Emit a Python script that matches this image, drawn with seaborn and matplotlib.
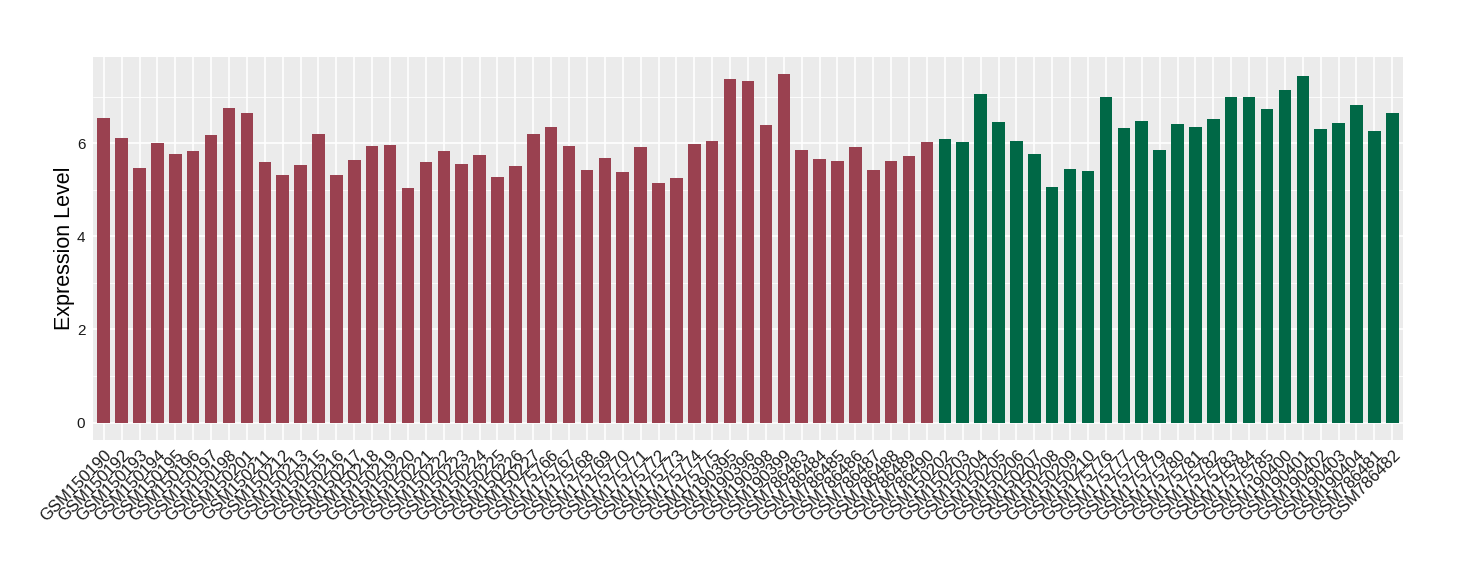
import matplotlib
matplotlib.use("Agg")
import matplotlib.pyplot as plt
import seaborn as sns
import pandas as pd
from matplotlib.ticker import MultipleLocator

group_a_samples = [
    "GSM150190", "GSM150192", "GSM150193", "GSM150194", "GSM150195", "GSM150196",
    "GSM150197", "GSM150198", "GSM150201", "GSM150211", "GSM150212", "GSM150213",
    "GSM150215", "GSM150216", "GSM150217", "GSM150218", "GSM150219", "GSM150220",
    "GSM150221", "GSM150222", "GSM150223", "GSM150224", "GSM150225", "GSM150226",
    "GSM150227", "GSM175766", "GSM175767", "GSM175768", "GSM175769", "GSM175770",
    "GSM175771", "GSM175772", "GSM175773", "GSM175774", "GSM175775", "GSM190395",
    "GSM190396", "GSM190398", "GSM190399", "GSM786483", "GSM786484", "GSM786485",
    "GSM786486", "GSM786487", "GSM786488", "GSM786489", "GSM786490",
]
group_a_values = [
    6.54, 6.11, 5.46, 6.00, 5.76, 5.83, 6.17, 6.75, 6.66, 5.59, 5.31, 5.53,
    6.19, 5.31, 5.64, 5.94, 5.96, 5.03, 5.59, 5.83, 5.55, 5.74, 5.27, 5.51,
    6.19, 6.34, 5.94, 5.42, 5.68, 5.38, 5.92, 5.14, 5.25, 5.98, 6.06, 7.39,
    7.33, 6.39, 7.48, 5.85, 5.66, 5.61, 5.91, 5.42, 5.61, 5.72, 6.02,
]
group_b_samples = [
    "GSM150202", "GSM150203", "GSM150204", "GSM150205", "GSM150206", "GSM150207",
    "GSM150208", "GSM150209", "GSM150210", "GSM175776", "GSM175777", "GSM175778",
    "GSM175779", "GSM175780", "GSM175781", "GSM175782", "GSM175783", "GSM175784",
    "GSM175785", "GSM190400", "GSM190401", "GSM190402", "GSM190403", "GSM190404",
    "GSM786481", "GSM786482",
]
group_b_values = [
    6.09, 6.02, 7.05, 6.45, 6.06, 5.76, 5.06, 5.44, 5.40, 6.99, 6.32, 6.47,
    5.85, 6.41, 6.34, 6.52, 6.99, 6.99, 6.73, 7.14, 7.44, 6.30, 6.43, 6.82,
    6.26, 6.66,
]
colors = {"A": "#9A4150", "B": "#006846"}

df = pd.DataFrame({
    "sample": group_a_samples + group_b_samples,
    "value": group_a_values + group_b_values,
    "group": ["A"] * len(group_a_samples) + ["B"] * len(group_b_samples),
})

sns.set_theme(style="darkgrid")
plt.rcParams["font.family"] = ["Liberation Sans", "DejaVu Sans"]

fig = plt.figure(figsize=(14.6, 5.8), dpi=100)
ax = fig.add_axes([93 / 1460, 140 / 580, (1403 - 93) / 1460, (440 - 57) / 580])
ax.set_facecolor("#EBEBEB")

sns.barplot(data=df, x="sample", y="value", hue="group", palette=colors,
            dodge=False, width=0.7, legend=False, ax=ax, saturation=1,
            linewidth=0, zorder=3)

n = len(df)
ax.set_xlim(-0.6, n - 1 + 0.6)
ymax = max(df["value"])
ax.set_ylim(-0.05 * ymax, ymax * 1.05)
ax.yaxis.set_major_locator(MultipleLocator(2))
ax.yaxis.set_minor_locator(MultipleLocator(1))
ax.grid(which="major", color="white", linewidth=1.2, zorder=0)
ax.grid(which="minor", axis="y", color="white", linewidth=0.6, zorder=0)
ax.set_axisbelow(True)
for s in ax.spines.values():
    s.set_visible(False)

ax.tick_params(axis="both", which="major", length=3.5, width=0.8, color="#333333",
               labelcolor="#1a1a1a", pad=2)
ax.tick_params(axis="y", which="minor", length=0)
ax.tick_params(axis="y", labelsize=11)
ax.set_xticks(range(n))
ax.set_xticklabels(df["sample"], rotation=45, ha="right", rotation_mode="anchor",
                   fontsize=12)
ax.set_xlabel("")
ax.set_ylabel("Expression Level", fontsize=15.5, color="black", labelpad=1)

fig.savefig("out.png", dpi=100)
